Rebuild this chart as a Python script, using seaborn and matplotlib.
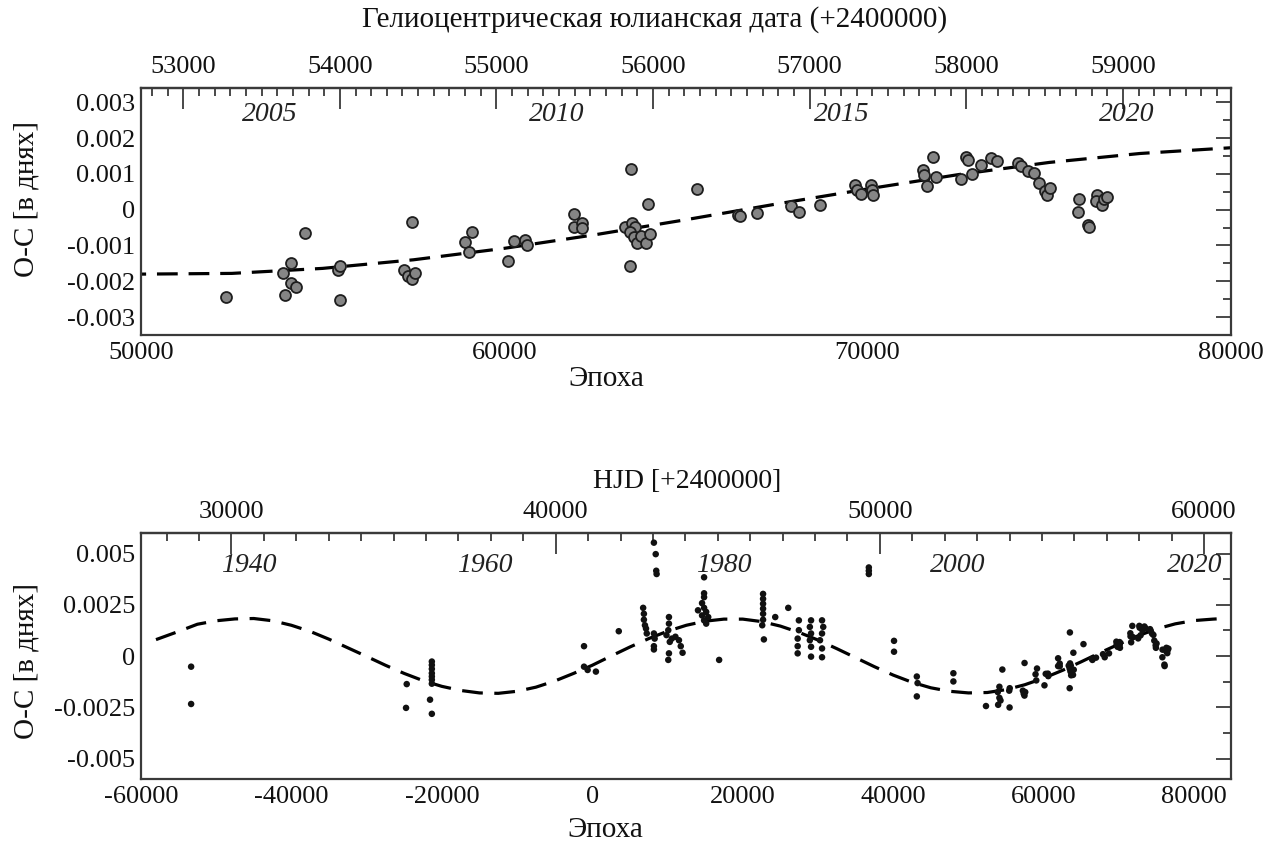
import numpy as np
import pandas as pd
import matplotlib
matplotlib.use("Agg")
import matplotlib.pyplot as plt
import matplotlib.transforms as mtransforms
import seaborn as sns
from matplotlib.ticker import MultipleLocator, FixedLocator, FuncFormatter

# ---------------- data ----------------
# modern minima (top panel, also shown in the bottom panel)
top_epoch = [52334, 53902, 53951, 54118, 54118, 54265, 54510, 55422, 55490, 55471,
             57236, 57353, 57451, 57549, 57461, 58922, 59118, 59020, 60108, 60275,
             60569, 60618, 61922, 61922, 62137, 62137, 63490, 63461, 63333, 63510,
             63608, 63461, 63559, 63657, 63755, 63902, 64000, 63951, 65294, 66424,
             66484, 66961, 67890, 68117, 68689, 69666, 69702, 69821, 70095, 70119,
             70143, 71526, 71550, 71633, 71788, 71883, 72563, 72718, 72765, 72885,
             73123, 73397, 73552, 74148, 74232, 74411, 74590, 74709, 74888, 74924,
             75007, 75806, 75782, 76056, 76080, 76318, 76294, 76437, 76497, 76580]
top_oc = [-0.00244, -0.00176, -0.00238, -0.00150, -0.00204, -0.00217, -0.00066, -0.00169, -0.00157, -0.00251,
          -0.00169, -0.00184, -0.00193, -0.00176, -0.00034, -0.00089, -0.00061, -0.00119, -0.00143, -0.00087,
          -0.00086, -0.00098, -0.00011, -0.00049, -0.00037, -0.00050, 0.00115, -0.00157, -0.00047, -0.00036,
          -0.00047, -0.00061, -0.00075, -0.00094, -0.00073, -0.00092, -0.00067, 0.00016, 0.00058, -0.00014,
          -0.00019, -0.00008, 0.00009, -0.00006, 0.00013, 0.00070, 0.00056, 0.00045, 0.00068, 0.00056,
          0.00040, 0.00111, 0.00096, 0.00067, 0.00147, 0.00092, 0.00086, 0.00147, 0.00138, 0.00101,
          0.00126, 0.00144, 0.00135, 0.00131, 0.00122, 0.00109, 0.00103, 0.00075, 0.00052, 0.00040,
          0.00061, 0.00031, -0.00006, -0.00042, -0.00049, 0.00040, 0.00023, 0.00014, 0.00030, 0.00036]

# older minima (bottom panel only)
old_epoch = [-53330, -53330, -24670, -24760, -21330, -21330, -21330, -21330, -21330, -21330,
             -21330, -21570, -21330, -1100, -1100, -620, 480, 3520, 8190, 8430,
             8500, 8550, 6760, 6860, 6860, 7000, 7140, 7240, 8190, 8290,
             8190, 8190, 10190, 10190, 10100, 9860, 10570, 11050, 10300, 11520,
             11760, 12000, 10100, 10190, 14860, 14860, 14860, 14590, 14860, 15140,
             14590, 14860, 15140, 14050, 15410, 16860, 22700, 22700, 22700, 22700,
             22700, 22700, 22590, 22810, 24320, 26050, 27460, 27460, 27300, 27300,
             27300, 29080, 28920, 29080, 28920, 29080, 29080, 30540, 30700, 30540,
             30270, 30540, 30540, 36760, 36760, 36760, 40110, 40110, 43140, 43240,
             43140, 48000, 48000]
old_oc = [-0.00052, -0.00234, -0.00137, -0.00253, -0.00027, -0.00044, -0.00063, -0.00084, -0.00100, -0.00116,
          -0.00135, -0.00213, -0.00282, 0.00048, -0.00052, -0.00068, -0.00076, 0.00121, 0.00553, 0.00497,
          0.00416, 0.00400, 0.00235, 0.00206, 0.00177, 0.00150, 0.00134, 0.00110, 0.00110, 0.00085,
          0.00048, 0.00032, 0.00190, 0.00158, 0.00126, 0.00102, 0.00085, 0.00094, 0.00069, 0.00077,
          0.00048, 0.00016, -0.00019, 0.00013, 0.00384, 0.00306, 0.00287, 0.00258, 0.00235, 0.00215,
          0.00198, 0.00174, 0.00158, 0.00223, 0.00190, -0.00019, 0.00303, 0.00279, 0.00255, 0.00231,
          0.00206, 0.00177, 0.00150, 0.00081, 0.00190, 0.00235, 0.00174, 0.00126, 0.00085, 0.00048,
          0.00013, 0.00174, 0.00142, 0.00110, 0.00077, 0.00045, -0.00003, 0.00174, 0.00142, 0.00110,
          0.00077, 0.00037, -0.00006, 0.00432, 0.00416, 0.00400, 0.00074, 0.00021, -0.00100, -0.00132,
          -0.00197, -0.00084, -0.00124]

# dashed model curve
model_epoch = [-58000, -55000, -52500, -50000, -47500, -45000, -42500, -40000, -37500, -35000,
               -32500, -30000, -27500, -25000, -22500, -20000, -17500, -15000, -12500, -10000,
               -7500, -5000, -2500, 0, 2500, 5000, 7500, 10000, 12500, 15000,
               17500, 20000, 22500, 25000, 27500, 30000, 32500, 35000, 37500, 40000,
               42500, 45000, 47500, 50000, 52500, 55000, 57500, 60000, 62500, 65000,
               67500, 70000, 72500, 75000, 77500, 80000, 82500, 83000]
model_oc = [0.00080, 0.00120, 0.00155, 0.00172, 0.00181, 0.00183, 0.00172, 0.00150, 0.00120, 0.00082,
            0.00040, -0.00002, -0.00045, -0.00085, -0.00120, -0.00148, -0.00168, -0.00180, -0.00182, -0.00172,
            -0.00152, -0.00122, -0.00085, -0.00045, 0.00000, 0.00044, 0.00085, 0.00121, 0.00150, 0.00170,
            0.00180, 0.00180, 0.00168, 0.00146, 0.00115, 0.00078, 0.00036, -0.00008, -0.00052, -0.00093,
            -0.00128, -0.00155, -0.00172, -0.00180, -0.00178, -0.00164, -0.00140, -0.00108, -0.00070, -0.00028,
            0.00016, 0.00058, 0.00098, 0.00132, 0.00157, 0.00173, 0.00180, 0.00181]

top_years = ["2005", "2010", "2015", "2020"]
top_year_epoch = [53544, 61456, 69286, 77143]
bot_years = ["1940", "1960", "1980", "2000", "2020"]
bot_year_epoch = [-45650, -14290, 17480, 48570, 80060]

top_hjd_ticks = [53000, 54000, 55000, 56000, 57000, 58000, 59000]
bot_hjd_ticks = [30000, 40000, 50000, 60000]

top_title = "Гелиоцентрическая юлианская дата (+2400000)"
bot_title = "HJD [+2400000]"
x_label = "Эпоха"
y_label = "O-C [в днях]"

# epoch -> HJD(-2400000) linear ephemeris
HJD0 = 41130.0
PER = 0.2320

# ---------------- style ----------------
sns.set_theme(style="white")
plt.rcParams['font.family'] = ['Liberation Serif', 'DejaVu Serif']
plt.rcParams['axes.unicode_minus'] = False

FS = 19        # tick labels
FS_LAB = 21    # axis labels / titles
FS_YEAR = 20
SPINE = '#3a3a3a'
TXT = '#111111'

fig = plt.figure(figsize=(12.86, 8.41), dpi=100)
ax1 = fig.add_axes([0.1096, 0.6017, 0.8476, 0.2937])
ax2 = fig.add_axes([0.1096, 0.0737, 0.8476, 0.2925])

df_top = pd.DataFrame({"epoch": top_epoch, "oc": top_oc})
df_bot = pd.DataFrame({"epoch": old_epoch + top_epoch, "oc": old_oc + top_oc})
df_mod = pd.DataFrame({"epoch": model_epoch, "oc": model_oc})

# top panel
sns.lineplot(data=df_mod, x="epoch", y="oc", ax=ax1, color="black", lw=2.3,
             linestyle=(0, (6.5, 3.4)), sort=False, estimator=None, zorder=2)
sns.scatterplot(data=df_top, x="epoch", y="oc", ax=ax1, s=62, color="#858585",
                edgecolor="#1e1e1e", linewidth=1.3, zorder=3)
# bottom panel
sns.lineplot(data=df_mod, x="epoch", y="oc", ax=ax2, color="black", lw=2.3,
             linestyle=(0, (6.5, 3.6)), sort=False, estimator=None, zorder=2)
sns.scatterplot(data=df_bot, x="epoch", y="oc", ax=ax2, s=22, color="#111111",
                edgecolor="none", linewidth=0, zorder=3)

ax1.set_xlim(50000, 80000)
ax1.set_ylim(-0.0035, 0.0034)
ax2.set_xlim(-60000, 84900)
ax2.set_ylim(-0.006, 0.006)

ax1.xaxis.set_major_locator(MultipleLocator(10000))
ax1.xaxis.set_minor_locator(MultipleLocator(1000))
ax1.yaxis.set_major_locator(MultipleLocator(0.001))
ax1.yaxis.set_minor_locator(MultipleLocator(0.0005))
ax2.xaxis.set_major_locator(MultipleLocator(20000))
ax2.xaxis.set_minor_locator(MultipleLocator(2000))
ax2.yaxis.set_major_locator(MultipleLocator(0.0025))
ax2.yaxis.set_minor_locator(MultipleLocator(0.00125))


def yfmt(v, pos):
    if abs(v) < 1e-12:
        return "0"
    return f"{v:.4f}".rstrip("0")


ax1.yaxis.set_major_formatter(FuncFormatter(yfmt))
ax2.yaxis.set_major_formatter(FuncFormatter(yfmt))
ax1.xaxis.set_major_formatter(FuncFormatter(lambda v, p: f"{int(round(v))}"))
ax2.xaxis.set_major_formatter(FuncFormatter(lambda v, p: f"{int(round(v))}"))

for ax in (ax1, ax2):
    for sp in ax.spines.values():
        sp.set_color(SPINE)
        sp.set_linewidth(1.6)
        sp.set_visible(True)
    ax.tick_params(axis='both', which='both', direction='in', top=False, right=True,
                   colors=SPINE, labelcolor=TXT, labelsize=FS, width=1.3)
    ax.tick_params(axis='x', which='major', length=15, pad=5)
    ax.tick_params(axis='x', which='minor', length=7)
    ax.tick_params(axis='y', which='major', length=11, pad=4)
    ax.tick_params(axis='y', which='minor', length=6)
    ax.set_xlabel(x_label, fontsize=FS_LAB, color=TXT)
    ax.set_ylabel(y_label, fontsize=FS_LAB, color=TXT)

ax1.xaxis.set_label_coords(0.427, -0.125)
ax2.xaxis.set_label_coords(0.426, -0.155)
ax1.yaxis.set_label_coords(-0.093, 0.55)
ax2.yaxis.set_label_coords(-0.093, 0.48)


def e2h(e):
    return HJD0 + PER * np.asarray(e)


def h2e(h):
    return (np.asarray(h) - HJD0) / PER


sec1 = ax1.secondary_xaxis('top', functions=(e2h, h2e))
sec1.xaxis.set_major_locator(FixedLocator(top_hjd_ticks))
sec1.xaxis.set_minor_locator(MultipleLocator(100))
sec2 = ax2.secondary_xaxis('top', functions=(e2h, h2e))
sec2.xaxis.set_major_locator(FixedLocator(bot_hjd_ticks))
sec2.xaxis.set_minor_locator(MultipleLocator(1000))
for sec in (sec1, sec2):
    sec.xaxis.set_major_formatter(FuncFormatter(lambda v, p: f"{int(round(v))}"))
    sec.spines['top'].set_color(SPINE)
    sec.spines['top'].set_linewidth(1.6)
    sec.tick_params(axis='x', which='both', direction='in', colors=SPINE,
                    labelcolor=TXT, labelsize=FS, width=1.3)
    sec.tick_params(axis='x', which='major', length=15, pad=7)
    sec.tick_params(axis='x', which='minor', length=6)

# twin-axis titles
fig.text(655 / 1286, 1 - 20 / 841, top_title, ha='center', va='center',
         fontsize=FS_LAB, color=TXT)
fig.text(687 / 1286, 1 - 481 / 841, bot_title, ha='center', va='center',
         fontsize=FS_LAB - 1, color=TXT)

tr1 = mtransforms.blended_transform_factory(ax1.transData, ax1.transAxes)
for yr, e in zip(top_years, top_year_epoch):
    ax1.text(e, 0.894, yr, transform=tr1, ha='center', va='center',
             fontsize=FS_YEAR, style='italic', color='#222222')
tr2 = mtransforms.blended_transform_factory(ax2.transData, ax2.transAxes)
for yr, e in zip(bot_years, bot_year_epoch):
    ax2.text(e, 0.87, yr, transform=tr2, ha='center', va='center',
             fontsize=FS_YEAR, style='italic', color='#222222')

fig.savefig("out.png", dpi=100, facecolor="white")
